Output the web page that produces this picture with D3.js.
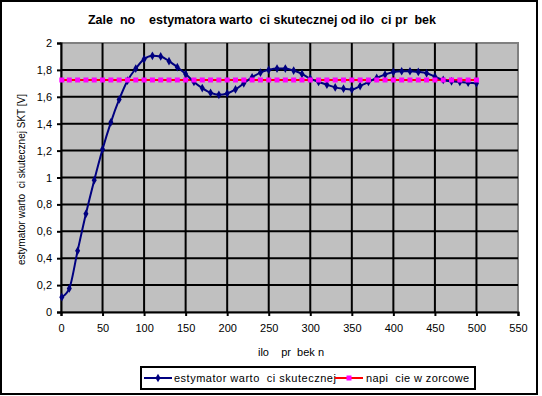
<!DOCTYPE html>
<html>
<head>
<meta charset="utf-8">
<script src="https://cdn.jsdelivr.net/npm/d3@7"></script>
<style>
  body { margin: 0; background: #fff; }
  text { font-family: "Liberation Sans", Arial, sans-serif; }
</style>
</head>
<body>
<div id="chart"></div>
<script>
// dane
const probki = d3.range(0, 501, 10).map(n => n === 0 ? 1 : n);
const estymator = [
  0.11, 0.175, 0.455, 0.73, 0.98, 1.21, 1.41, 1.58, 1.72, 1.81,
  1.88, 1.905, 1.9, 1.865, 1.82, 1.77, 1.71, 1.665, 1.63, 1.615,
  1.625, 1.655, 1.70, 1.745, 1.78, 1.80, 1.81, 1.81, 1.795, 1.77,
  1.735, 1.71, 1.69, 1.67, 1.66, 1.655, 1.68, 1.71, 1.74, 1.765,
  1.785, 1.79, 1.79, 1.785, 1.775, 1.75, 1.725, 1.715, 1.71, 1.705,
  1.70
];
const napiecie = probki.map(() => 1.725);
const xTicks = d3.range(0, 551, 50);
const yTicks = d3.range(0, 2.01, 0.2);

const width = 542, height = 396;
const svg = d3.select("#chart").append("svg")
  .attr("width", width)
  .attr("height", height);

// ramka wykresu
svg.append("rect")
  .attr("x", 1).attr("y", 1)
  .attr("width", 536).attr("height", 393)
  .attr("fill", "#fff")
  .attr("stroke", "#000")
  .attr("stroke-width", 2);

const x = d3.scaleLinear().domain([0, 550]).range([61, 518]);
const y = d3.scaleLinear().domain([0, 2]).range([312, 43]);

// tlo obszaru
svg.append("rect")
  .attr("x", x(0)).attr("y", y(2))
  .attr("width", x(550) - x(0)).attr("height", y(0) - y(2))
  .attr("fill", "#c0c0c0")
  .attr("stroke", "#808080")
  .attr("stroke-width", 2);

// siatka
svg.append("g").selectAll("line")
  .data(yTicks.slice(1, -1))
  .enter().append("line")
  .attr("x1", x(0)).attr("x2", x(550))
  .attr("y1", d => y(d)).attr("y2", d => y(d))
  .attr("stroke", "#000").attr("stroke-width", 2);

svg.append("g").selectAll("line")
  .data(xTicks.slice(1, -1))
  .enter().append("line")
  .attr("x1", d => x(d)).attr("x2", d => x(d))
  .attr("y1", y(0)).attr("y2", y(2))
  .attr("stroke", "#000").attr("stroke-width", 2);

// osie
const fmt = d => d3.format(".1~f")(d).replace(".", ",");

const xAxis = svg.append("g")
  .attr("transform", "translate(0," + y(0) + ")")
  .call(d3.axisBottom(x).tickValues(xTicks).tickSize(4).tickPadding(8));
const yAxis = svg.append("g")
  .attr("transform", "translate(" + x(0) + ",0)")
  .call(d3.axisLeft(y).tickValues(yTicks).tickSize(4).tickPadding(5).tickFormat(fmt));

[xAxis, yAxis].forEach(a => {
  a.select(".domain").attr("stroke", "#000").attr("stroke-width", 2);
  a.selectAll(".tick line").attr("stroke", "#000").attr("stroke-width", 2);
  a.selectAll(".tick text")
    .attr("font-family", "Liberation Sans, Arial, sans-serif")
    .attr("font-size", 11).attr("fill", "#000");
});

// serie
const line = d3.line()
  .x((d, i) => x(probki[i]))
  .y(d => y(d));

svg.append("path")
  .datum(napiecie)
  .attr("fill", "none")
  .attr("stroke", "#ff0000")
  .attr("stroke-width", 2)
  .attr("d", line);

svg.append("path")
  .datum(estymator)
  .attr("fill", "none")
  .attr("stroke", "#000080")
  .attr("stroke-width", 2)
  .attr("d", line.curve(d3.curveMonotoneX));

const diament = d3.symbol().type(d3.symbolDiamond).size(22);
svg.append("g").selectAll("path")
  .data(estymator)
  .enter().append("path")
  .attr("transform", (d, i) => "translate(" + x(probki[i]) + "," + y(d) + ")")
  .attr("d", diament)
  .attr("fill", "#000080");

svg.append("g").selectAll("rect")
  .data(napiecie)
  .enter().append("rect")
  .attr("x", (d, i) => x(probki[i]) - 2.5)
  .attr("y", d => y(d) - 2.5)
  .attr("width", 5).attr("height", 5)
  .attr("fill", "#ff00ff");

// teksty
svg.append("text")
  .attr("x", 262).attr("y", 24)
  .attr("text-anchor", "middle")
  .attr("font-size", 12.5).attr("font-weight", "bold")
  .style("white-space", "pre")
  .text("Zale  no    estymatora warto  ci skutecznej od ilo  ci pr  bek");

svg.append("text")
  .attr("transform", "translate(25," + (y(1) + 2) + ") rotate(-90)")
  .attr("text-anchor", "middle")
  .attr("font-size", 10)
  .style("white-space", "pre")
  .text("estymator warto  ci skutecznej SKT [V]");

svg.append("text")
  .attr("x", 291).attr("y", 356)
  .attr("text-anchor", "middle")
  .attr("font-size", 11)
  .style("white-space", "pre")
  .text("ilo    pr  bek n");

// legenda
const leg = svg.append("g");
leg.append("rect")
  .attr("x", 141).attr("y", 367)
  .attr("width", 334).attr("height", 22)
  .attr("fill", "#fff")
  .attr("stroke", "#000").attr("stroke-width", 2);

leg.append("line")
  .attr("x1", 144).attr("x2", 172).attr("y1", 378).attr("y2", 378)
  .attr("stroke", "#000080").attr("stroke-width", 2);
leg.append("path")
  .attr("transform", "translate(158,378)")
  .attr("d", diament).attr("fill", "#000080");
leg.append("text")
  .attr("x", 174).attr("y", 382)
  .attr("font-size", 11)
  .attr("letter-spacing", 0.5)
  .style("white-space", "pre")
  .text("estymator warto  ci skutecznej");

leg.append("line")
  .attr("x1", 335).attr("x2", 363).attr("y1", 378).attr("y2", 378)
  .attr("stroke", "#ff0000").attr("stroke-width", 2);
leg.append("rect")
  .attr("x", 346.5).attr("y", 375.5)
  .attr("width", 5).attr("height", 5)
  .attr("fill", "#ff00ff");
leg.append("text")
  .attr("x", 366).attr("y", 382)
  .attr("font-size", 11)
  .attr("letter-spacing", 0.4)
  .style("white-space", "pre")
  .text("napi  cie w zorcowe");
</script>
</body>
</html>
